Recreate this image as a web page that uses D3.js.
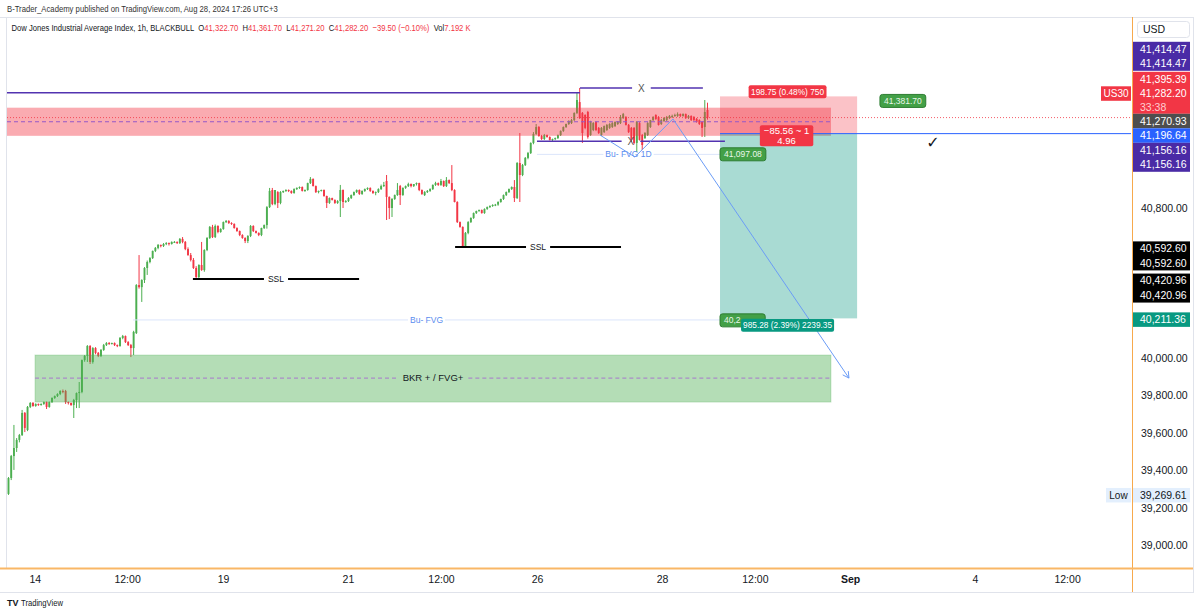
<!DOCTYPE html>
<html><head><meta charset="utf-8">
<script src="https://cdn.jsdelivr.net/npm/d3@7/dist/d3.min.js"></script>
<style>
html,body{margin:0;padding:0;background:#fff;}
svg{display:block;font-family:"Liberation Sans",Arial,sans-serif;}
</style></head><body>
<svg id="chart" width="1200" height="614"></svg>
<script>
// ---------------- DATA ----------------
const opens=[39275,39360,39477,39520,39563,39589,39707,39616,39739,39760,
39744,39755,39749,39755,39765,39739,39765,39787,39797,39808,
39824,39824,39765,39760,39749,39776,39813,39819,39989,40011,
40064,39979,40053,40027,40011,40043,40069,40080,40075,40080,
40069,40064,40107,40117,40085,40069,40053,40133,40389,40378,
40416,40480,40512,40533,40571,40587,40603,40597,40608,40613,
40608,40619,40619,40613,40635,40619,40581,40549,40523,40480,
40432,40496,40469,40576,40640,40699,40645,40704,40672,40688,
40725,40731,40720,40715,40693,40677,40656,40640,40624,40651,
40704,40677,40667,40656,40693,40709,40805,40896,40821,40885,
40827,40885,40891,40896,40891,40880,40901,40907,40912,40891,
40896,40933,40955,40917,40885,40891,40896,40864,40827,40853,
40843,40827,40837,40896,40832,40837,40853,40869,40885,40896,
40875,40891,40901,40907,40891,40880,40885,40901,40917,40944,
40859,40800,40848,40869,40917,40869,40907,40917,40928,40917,
40928,40933,40896,40869,40885,40891,40901,40923,40933,40923,
40944,40917,40949,40933,40896,40832,40725,40699,40597,40667,
40725,40747,40773,40784,40789,40773,40795,40805,40811,40816,
40818,40832,40848,40869,40885,40901,40912,40853,41040,40976,
41029,41067,41093,41147,41195,41232,41184,41168,41189,41179,
41163,41168,41173,41189,41211,41232,41248,41253,41269,41307,
41365,41307,41296,41312,41189,41216,41259,41227,41189,41205,
41216,41227,41232,41237,41248,41253,41280,41285,41243,41227,
41227,41147,41253,41189,41173,41189,41232,41269,41296,41285,
41248,41264,41269,41280,41285,41291,41291,41301,41291,41301,
41280,41291,41285,41275,41269,41259,41232,41322.7];
const highs=[39365,39483,39643,39573,39595,39723,39712,39744,39765,39765,
39758,39757,39758,39768,39768,39768,39790,39800,39812,39828,
39832,39830,39768,39763,39782,39816,39872,39992,40016,40069,
40069,40058,40058,40032,40048,40075,40085,40085,40082,40083,
40072,40112,40123,40120,40090,40075,40145,40394,40549,40420,
40485,40520,40538,40573,40592,40608,40605,40613,40618,40616,
40622,40624,40622,40640,40645,40624,40590,40560,40533,40490,
40500,40619,40580,40645,40704,40710,40712,40708,40692,40728,
40736,40735,40724,40718,40697,40680,40660,40644,40655,40709,
40708,40680,40670,40695,40712,40810,40907,40907,40896,40890,
40890,40893,40900,40899,40894,40905,40910,40915,40915,40899,
40935,40965,40958,40920,40893,40898,40899,40866,40856,40855,
40846,40842,40923,40899,40842,40858,40872,40888,40899,40899,
40894,40904,40910,40910,40894,40888,40905,40925,40939,40976,
40862,40853,40872,40933,40923,40910,40920,40935,40931,40928,
40936,40935,40899,40890,40896,40905,40926,40940,40936,40955,
40947,40965,40952,41029,40900,40836,40728,40702,40672,40730,
40750,40776,40786,40792,40792,40798,40808,40814,40820,40822,
40836,40850,40872,40888,40904,40915,40949,41045,41200,41035,
41072,41099,41150,41205,41248,41237,41190,41195,41192,41182,
41170,41176,41192,41214,41235,41250,41268,41275,41310,41414.47,
41440,41312,41300,41318,41265,41258,41262,41232,41232,41240,
41248,41252,41258,41262,41264,41296,41307,41290,41248,41232,
41232,41264,41258,41195,41205,41258,41270,41290,41300,41290,
41275,41285,41291,41296,41298,41303,41310,41304,41305,41304,
41296,41294,41290,41280,41273,41263,41376,41361.7];
const lows=[39269.61,39349,39403,39499,39550,39584,39605,39610,39733,39740,
39740,39745,39746,39750,39728,39735,39760,39782,39792,39802,
39812,39755,39752,39745,39680,39733,39733,39812,39980,39979,
39968,39970,40020,40005,40005,40038,40064,40070,40072,40064,
40058,40060,40100,40080,40064,40005,40016,40128,40370,40299,
40400,40443,40505,40528,40565,40580,40590,40592,40602,40600,
40605,40614,40608,40608,40612,40575,40545,40515,40475,40416,
40425,40465,40460,40570,40635,40640,40640,40665,40668,40684,
40720,40715,40710,40690,40673,40650,40636,40613,40613,40645,
40672,40664,40650,40650,40688,40690,40800,40815,40815,40800,
40820,40880,40886,40885,40876,40876,40896,40902,40888,40886,
40892,40928,40915,40880,40878,40888,40860,40800,40822,40840,
40822,40822,40752,40800,40828,40832,40848,40865,40880,40870,
40870,40886,40896,40886,40875,40868,40880,40896,40912,40736,
40741,40752,40843,40865,40816,40865,40902,40912,40910,40912,
40920,40890,40870,40864,40880,40886,40896,40918,40918,40918,
40912,40912,40928,40890,40830,40720,40695,40587,40587,40660,
40720,40742,40768,40780,40770,40769,40790,40800,40806,40810,
40812,40828,40843,40864,40880,40896,40832,40848,40832,40970,
41024,41060,41088,41140,41190,41180,41163,41163,41175,41160,
41152,41162,41168,41184,41206,41227,41243,41248,41264,41301,
41275,41147,41220,41170,41185,41210,41210,41195,41184,41200,
41211,41222,41227,41232,41243,41248,41275,41240,41200,41152,
41140,41099,41160,41109,41168,41184,41227,41264,41270,41240,
41243,41259,41264,41275,41280,41286,41286,41285,41287,41275,
41275,41264,41264,41255,41243,41179,41179,41271.2];
const closes=[39360,39477,39520,39563,39589,39707,39627,39739,39760,39744,
39755,39749,39755,39765,39739,39765,39787,39797,39808,39824,
39819,39765,39760,39749,39776,39813,39819,39989,40011,40064,
39979,40053,40027,40011,40043,40069,40080,40075,40080,40069,
40064,40107,40117,40085,40069,40053,40139,40389,40378,40416,
40480,40512,40533,40571,40587,40603,40597,40608,40613,40608,
40619,40619,40613,40635,40619,40581,40549,40523,40480,40432,
40496,40469,40576,40640,40699,40645,40704,40672,40688,40725,
40731,40720,40715,40693,40677,40656,40640,40624,40651,40704,
40677,40667,40656,40693,40709,40805,40891,40821,40896,40827,
40885,40891,40896,40891,40880,40901,40907,40912,40891,40896,
40933,40955,40917,40885,40891,40896,40864,40827,40853,40843,
40827,40837,40896,40832,40837,40853,40869,40885,40896,40875,
40891,40901,40907,40891,40880,40885,40901,40917,40923,40859,
40800,40848,40869,40896,40869,40907,40917,40928,40917,40928,
40933,40896,40875,40885,40891,40901,40923,40933,40923,40944,
40917,40949,40933,40896,40832,40725,40699,40597,40667,40725,
40747,40773,40784,40789,40773,40795,40805,40811,40816,40818,
40832,40848,40869,40885,40901,40912,40853,41040,40976,41029,
41067,41093,41147,41195,41232,41184,41168,41189,41179,41163,
41168,41173,41189,41211,41232,41248,41264,41269,41307,41376,
41280,41200,41227,41179,41259,41253,41216,41200,41227,41237,
41243,41248,41253,41259,41259,41285,41301,41243,41205,41163,
41147,41259,41163,41136,41200,41253,41269,41285,41275,41243,
41269,41280,41285,41291,41291,41296,41301,41291,41301,41280,
41291,41269,41269,41259,41248,41227,41312,41282.2];

const priceTicks=[39000,39200,39400,39600,39800,40000,40200,40400,40600,40800,41000,41200,41400];
const timeLabels=["14","12:00","19","21","12:00","26","28","12:00","Sep","4","12:00"];
const timeBars=[9.7,43.6,78.9,124.8,159,194.3,240.3,274.4,309.4,355.3,389.2];

// drawings (bar index / price)
const supplyZone=[-0.55,302.4,41335,41185,41260];      // x0,x1,top,bottom,mid
const demandZone=[9.74,302.4,40016,39765,39893];        // x0,x1,top,bottom,mid
const demandLabel="BKR + / FVG+";
const purpleLines=[[-0.55,210.1,41414.47,""],[210.1,255.3,41440,"X"],[194.3,263.4,41156.16,"X"]];
const sslLines=[[67.8,128.9,40420.96,"SSL"],[164.2,225.2,40592.60,"SSL"]];
const fvgLines=[[45.8,261.6,40203,"Bu- FVG"],[194.3,261.6,41086,"Bu- FVG 1D"]];
const position=[261.6,312,41196.64,41395.39,40211.36]; // x0,x1,entry,stop,target
const positionTexts=["198.75 (0.48%) 750","\u221285.56 ~ 1","4.96","985.28 (2.39%) 2239.35"];
const arrowPath=[[217.5,41189],[230.3,41072],[244.3,41275],[309,39893]];
const greenTags=[[261.6,41097.08,"41,097.08"],[261.6,40211.36,"40,211.36"],[320.4,41381.7,"41,381.70"]];
const checkMark=[339.9,41152];
const lastPrice=41282.20, countdown="33:38";
const titleParts=[["Dow Jones Industrial Average Index, 1h, BLACKBULL  ","k"],["O","k"],["41,322.70  ","r"],["H","k"],["41,361.70  ","r"],
 ["L","k"],["41,271.20  ","r"],["C","k"],["41,282.20  ","r"],["\u221239.50 (\u22120.10%)  ","r"],["Vol","k"],["7.192 K","r"]];

// ---------------- CHART ----------------
const svg=d3.select('#chart');
const P={l:7,r:1131,t:17,b:568};
const x=d3.scaleLinear().domain([-0.55,412.7]).range([P.l,P.r]);
const y=d3.scaleLinear().domain([38880,41818.7]).range([P.b,P.t]);
const up="#4caf50",down="#f23645",purple="#5233b0",ink="#131722",red="#f23645";

svg.append('rect').attr('width',1200).attr('height',614).attr('fill','#fff');
const defs=svg.append('defs');
defs.append('clipPath').attr('id','pc').append('rect')
  .attr('x',P.l).attr('y',P.t).attr('width',P.r-P.l+1).attr('height',P.b-P.t);

function condensed(xx,yy,targetW,fs,parts){
  const g=svg.append('g');
  const t=g.append('text').attr('x',0).attr('y',yy).attr('dy','0.35em').attr('font-size',fs)
    .attr('style','white-space:pre');
  parts.forEach(p=>t.append('tspan').attr('fill',p[1]==='r'?red:(p[1]==='k'?ink:p[1])).text(p[0]));
  const w=t.node().getComputedTextLength();
  g.attr('transform',`translate(${xx},0) scale(${targetW/w},1)`);
}
condensed(7,9,271,9.5,[['B-Trader_Academy published on TradingView.com, Aug 28, 2024 17:26 UTC+3','#333']]);
condensed(11.5,27.5,460,9.5,titleParts);

const frame=svg.append('g').attr('stroke','#e0e3eb').attr('fill','none');
frame.append('line').attr('x1',0).attr('x2',1194).attr('y1',17.5).attr('y2',17.5);
frame.append('line').attr('x1',P.l-0.5).attr('x2',P.l-0.5).attr('y1',17).attr('y2',568);
frame.append('line').attr('x1',1193.5).attr('x2',1193.5).attr('y1',17).attr('y2',592);
frame.append('line').attr('x1',0).attr('x2',1194).attr('y1',592.5).attr('y2',592.5);

const plot=svg.append('g').attr('clip-path','url(#pc)');

// candles
const candles=closes.map((c,i)=>({i,o:opens[i],h:highs[i],l:lows[i],c}));
plot.append('g').selectAll('line').data(candles).join('line')
  .attr('x1',d=>x(d.i)).attr('x2',d=>x(d.i))
  .attr('y1',d=>y(d.h)).attr('y2',d=>y(d.l))
  .attr('stroke',d=>d.c>=d.o?up:down).attr('stroke-width',1);
plot.append('g').selectAll('rect').data(candles).join('rect')
  .attr('x',d=>x(d.i)-0.95).attr('width',1.9)
  .attr('y',d=>y(Math.max(d.o,d.c)))
  .attr('height',d=>Math.max(1,Math.abs(y(d.o)-y(d.c))))
  .attr('fill',d=>d.c>=d.o?up:down);

// zones
plot.append('rect').attr('x',x(supplyZone[0])).attr('width',x(supplyZone[1])-x(supplyZone[0]))
  .attr('y',y(supplyZone[2])).attr('height',y(supplyZone[3])-y(supplyZone[2]))
  .attr('fill','rgba(242,54,69,0.42)');
plot.append('rect').attr('x',x(demandZone[0])).attr('width',x(demandZone[1])-x(demandZone[0]))
  .attr('y',y(demandZone[2])).attr('height',y(demandZone[3])-y(demandZone[2]))
  .attr('fill','rgba(76,175,80,0.42)').attr('stroke','rgba(76,175,80,0.25)');

// position tool
const [p0,p1,pe,ps,pt]=position;
plot.append('rect').attr('x',x(p0)).attr('width',x(p1)-x(p0)).attr('y',y(ps)).attr('height',y(pe)-y(ps))
  .attr('fill','rgba(242,54,69,0.3)');
plot.append('rect').attr('x',x(p0)).attr('width',x(p1)-x(p0)).attr('y',y(pe)).attr('height',y(pt)-y(pe))
  .attr('fill','rgba(8,153,129,0.35)');
plot.append('line').attr('x1',x(p0)).attr('x2',P.r).attr('y1',y(pe)).attr('y2',y(pe))
  .attr('stroke','#2962ff').attr('stroke-width',1);

function gapLine(g,x0,x1,yy,label,opt){
  const cx=(x0+x1)/2;
  let w=0;
  if(label){
    const t=g.append('text').attr('x',cx).attr('y',yy).attr('dy','0.35em').attr('text-anchor','middle')
      .attr('font-size',opt.fs).attr('fill',opt.tc).text(label);
    w=t.node().getComputedTextLength()+opt.pad*2;
  }
  const segs=label?[[x0,cx-w/2],[cx+w/2,x1]]:[[x0,x1]];
  segs.forEach(s=>{
    const l=g.insert('line','text').attr('x1',s[0]).attr('x2',s[1]).attr('y1',yy).attr('y2',yy)
      .attr('stroke',opt.c).attr('stroke-width',opt.sw);
    if(opt.dash) l.attr('stroke-dasharray',opt.dash);
  });
}
const lines=plot.append('g');
lines.append('line').attr('x1',P.l).attr('x2',P.r).attr('y1',y(lastPrice)).attr('y2',y(lastPrice))
  .attr('stroke','#f23645').attr('stroke-dasharray','1,2').attr('opacity',0.8);
gapLine(lines.append('g'),x(supplyZone[0]),x(supplyZone[1]),y(supplyZone[4]),'',{c:'#9457c9',sw:1,dash:'4,3'});
gapLine(lines.append('g'),x(demandZone[0]),x(demandZone[1]),y(demandZone[4]),demandLabel,
  {c:'#a98cc7',sw:1.2,dash:'4,3',fs:9.5,tc:ink,pad:5});
fvgLines.forEach(f=>gapLine(lines.append('g'),x(f[0]),x(f[1]),y(f[2]),f[3],
  {c:'#dbe5fb',sw:1,fs:8.5,tc:'#5b8def',pad:2}));
purpleLines.forEach(f=>gapLine(lines.append('g'),x(f[0]),x(f[1]),y(f[2]),f[3],
  {c:purple,sw:1.6,fs:10,tc:'#555',pad:6}));
sslLines.forEach(f=>gapLine(lines.append('g'),x(f[0]),x(f[1]),y(f[2]),f[3],
  {c:'#000',sw:2,fs:8.5,tc:ink,pad:4}));

// arrow
const ap=arrowPath.map(p=>[x(p[0]),y(p[1])]);
lines.append('path').attr('d',d3.line()(ap)).attr('fill','none').attr('stroke','#6b9cf6').attr('stroke-width',1);
{
  const a=ap[ap.length-1],b=ap[ap.length-2];
  const ang=Math.atan2(a[1]-b[1],a[0]-b[0]);
  const L=7;
  [-0.5,0.5].forEach(da=>{
    lines.append('line').attr('x1',a[0]).attr('y1',a[1])
      .attr('x2',a[0]-L*Math.cos(ang+da)).attr('y2',a[1]-L*Math.sin(ang+da))
      .attr('stroke','#6b9cf6').attr('stroke-width',1);
  });
}

// in-chart labels
const lab=plot.append('g');
function tag(cx,cy,textLines,fill,opt={}){
  const g=lab.append('g');
  const fs=opt.fs||9.5, lh=opt.lh||10;
  const ts=textLines.map((t,k)=>g.append('text').attr('x',cx).attr('y',cy+(k-(textLines.length-1)/2)*lh)
    .attr('dy','0.35em').attr('text-anchor','middle').attr('font-size',fs)
    .attr('fill',opt.tc||'#fff').text(t));
  const w=d3.max(ts,t=>t.node().getComputedTextLength())+(opt.padx||6);
  const h=textLines.length*lh+(opt.pady||3);
  g.insert('rect','text').attr('x',cx-w/2).attr('y',cy-h/2).attr('width',w).attr('height',h)
    .attr('rx',opt.rx||2).attr('fill',fill).attr('stroke',opt.stroke||'none');
  return w;
}
const pcx=x((p0+p1)/2);
tag(pcx-1,y(ps)-4.5,[positionTexts[0]],'#f23645',{fs:8.3,padx:5});
tag(pcx-2,y(pe)+2,[positionTexts[1],positionTexts[2]],'#f23645',{fs:9.5,lh:10,padx:8,pady:1});
const gTexts=[];
greenTags.forEach(gt=>{
  const g=lab.append('g');
  const t=g.append('text').attr('x',x(gt[0])+4).attr('y',y(gt[1])+2).attr('dy','0.35em')
    .attr('font-size',8.5).attr('fill','#e9f7ea').text(gt[2]);
  gTexts.push(t);
  const w=t.node().getComputedTextLength()+8;
  g.insert('rect','text').attr('x',x(gt[0])).attr('y',y(gt[1])-4.5).attr('width',w).attr('height',13)
    .attr('rx',2.5).attr('fill','#43a047').attr('stroke','#2e7d32');
});
const tw=tag(pcx-1,y(pt)+7,[positionTexts[3]],'#089981',{fs:8.3,padx:4});
// the target tag covers the right part of the green price tag underneath it
defs.append('clipPath').attr('id','gclip').append('rect')
  .attr('x',0).attr('y',0).attr('width',pcx-1-tw/2).attr('height',614);
gTexts[1].attr('clip-path','url(#gclip)').attr('textLength',null);
gTexts[1].text(greenTags[1][2].slice(0,4));
lab.append('text').attr('x',x(checkMark[0])).attr('y',y(checkMark[1])).attr('dy','0.35em')
  .attr('text-anchor','middle').attr('font-size',16).attr('fill',ink)
  .attr('font-family','DejaVu Sans').text('\u2713');

// ---------------- AXES ----------------
svg.append('line').attr('x1',1132.5).attr('x2',1132.5).attr('y1',17).attr('y2',592).attr('stroke','#f7a94c').attr('stroke-width',1);
svg.append('line').attr('x1',0).attr('x2',1193).attr('y1',568.5).attr('y2',568.5).attr('stroke','#f9b766').attr('stroke-width',2);

const ya=svg.append('g').attr('transform','translate(1133,0)')
  .call(d3.axisRight(y).tickValues(priceTicks).tickFormat(d3.format(',.2f')).tickSize(0).tickPadding(8));
ya.select('.domain').remove();
ya.selectAll('text').attr('font-size',10.5).attr('fill',ink).attr('font-family','"Liberation Sans",Arial,sans-serif');

const xa=svg.append('g').attr('transform','translate(0,572)')
  .call(d3.axisBottom(x).tickValues(timeBars).tickFormat((d,i)=>timeLabels[i]).tickSize(0).tickPadding(4));
xa.select('.domain').remove();
xa.selectAll('text').attr('font-size',10.5).attr('fill',ink).attr('font-family','"Liberation Sans",Arial,sans-serif')
  .attr('font-weight',(d,i)=>timeLabels[i]==='Sep'?'bold':'normal');

const AX=1133, AW=57, LH=14.5;
const boxes=[];
function axisBlock(y0,items,fill){
  const h=items.reduce((s,it)=>s+(it.h||LH),0);
  boxes.push([y0,y0+h]);
  svg.append('rect').attr('x',AX).attr('y',y0).attr('width',AW).attr('height',h).attr('fill',fill);
  let yy=y0;
  items.forEach(it=>{
    const hh=it.h||LH;
    svg.append('text').attr('x',AX+7).attr('y',yy+hh/2).attr('dy','0.35em').attr('font-size',10.5)
      .attr('fill',it.c||'#fff').text(it.t);
    yy+=hh;
  });
  return yy;
}
const fmt=d3.format(',.2f');
let ty=y(purpleLines[0][2])-51;
ty=axisBlock(ty,[{t:fmt(purpleLines[0][2])},{t:fmt(purpleLines[0][2])}],'#4a2ba6');
ty=axisBlock(ty+1,[{t:fmt(ps)},{t:fmt(lastPrice)},{t:countdown,c:'#ffcdd2',h:13}],'#f23645');
const usY=ty-13-LH;
ty=axisBlock(ty,[{t:fmt(41270.93)}],'#4e4e4e');
ty=axisBlock(ty,[{t:fmt(pe)}],'#2962ff');
axisBlock(ty,[{t:fmt(purpleLines[2][2])},{t:fmt(purpleLines[2][2])}],'#4a2ba6');
svg.append('rect').attr('x',1101).attr('y',usY).attr('width',30).attr('height',LH).attr('fill','#f23645');
svg.append('text').attr('x',1116).attr('y',usY+LH/2).attr('dy','0.35em').attr('text-anchor','middle')
  .attr('font-size',10).attr('fill','#fff').text('US30');
axisBlock(y(sslLines[1][2])-5.5,[{t:fmt(sslLines[1][2])},{t:fmt(sslLines[1][2])}],'#000');
axisBlock(y(sslLines[0][2])-5.5,[{t:fmt(sslLines[0][2])},{t:fmt(sslLines[0][2])}],'#000');
axisBlock(y(pt)-6,[{t:fmt(pt)}],'#089981');
const lowP=d3.min(lows);
axisBlock(y(lowP)-7,[{t:fmt(lowP),c:ink}],'#e3effd');
svg.append('rect').attr('x',1106).attr('y',y(lowP)-7).attr('width',25).attr('height',LH).attr('fill','#e3effd');
svg.append('text').attr('x',1118.5).attr('y',y(lowP)-7+LH/2).attr('dy','0.35em').attr('text-anchor','middle')
  .attr('font-size',10).attr('fill',ink).text('Low');
svg.append('rect').attr('x',1137.5).attr('y',21.5).attr('width',52).attr('height',16).attr('rx',3)
  .attr('fill','#fff').attr('stroke','#e0e3eb');
svg.append('text').attr('x',1143).attr('y',29.5).attr('dy','0.35em').attr('font-size',10.5).attr('fill',ink).text('USD');
// price-scale ticks hidden under a tag are not shown (as on the reference)
ya.selectAll('.tick').filter(d=>boxes.some(b=>y(d)+5>b[0]&&y(d)-5<b[1])).remove();

// footer
svg.append('text').attr('x',7).attr('y',606).attr('font-size',9).attr('font-weight','bold').attr('fill',ink).text('TV');
svg.append('text').attr('x',21).attr('y',606).attr('font-size',8.5).attr('fill',ink)
  .attr('textLength',42).attr('lengthAdjust','spacingAndGlyphs').text('TradingView');
</script>
</body></html>
